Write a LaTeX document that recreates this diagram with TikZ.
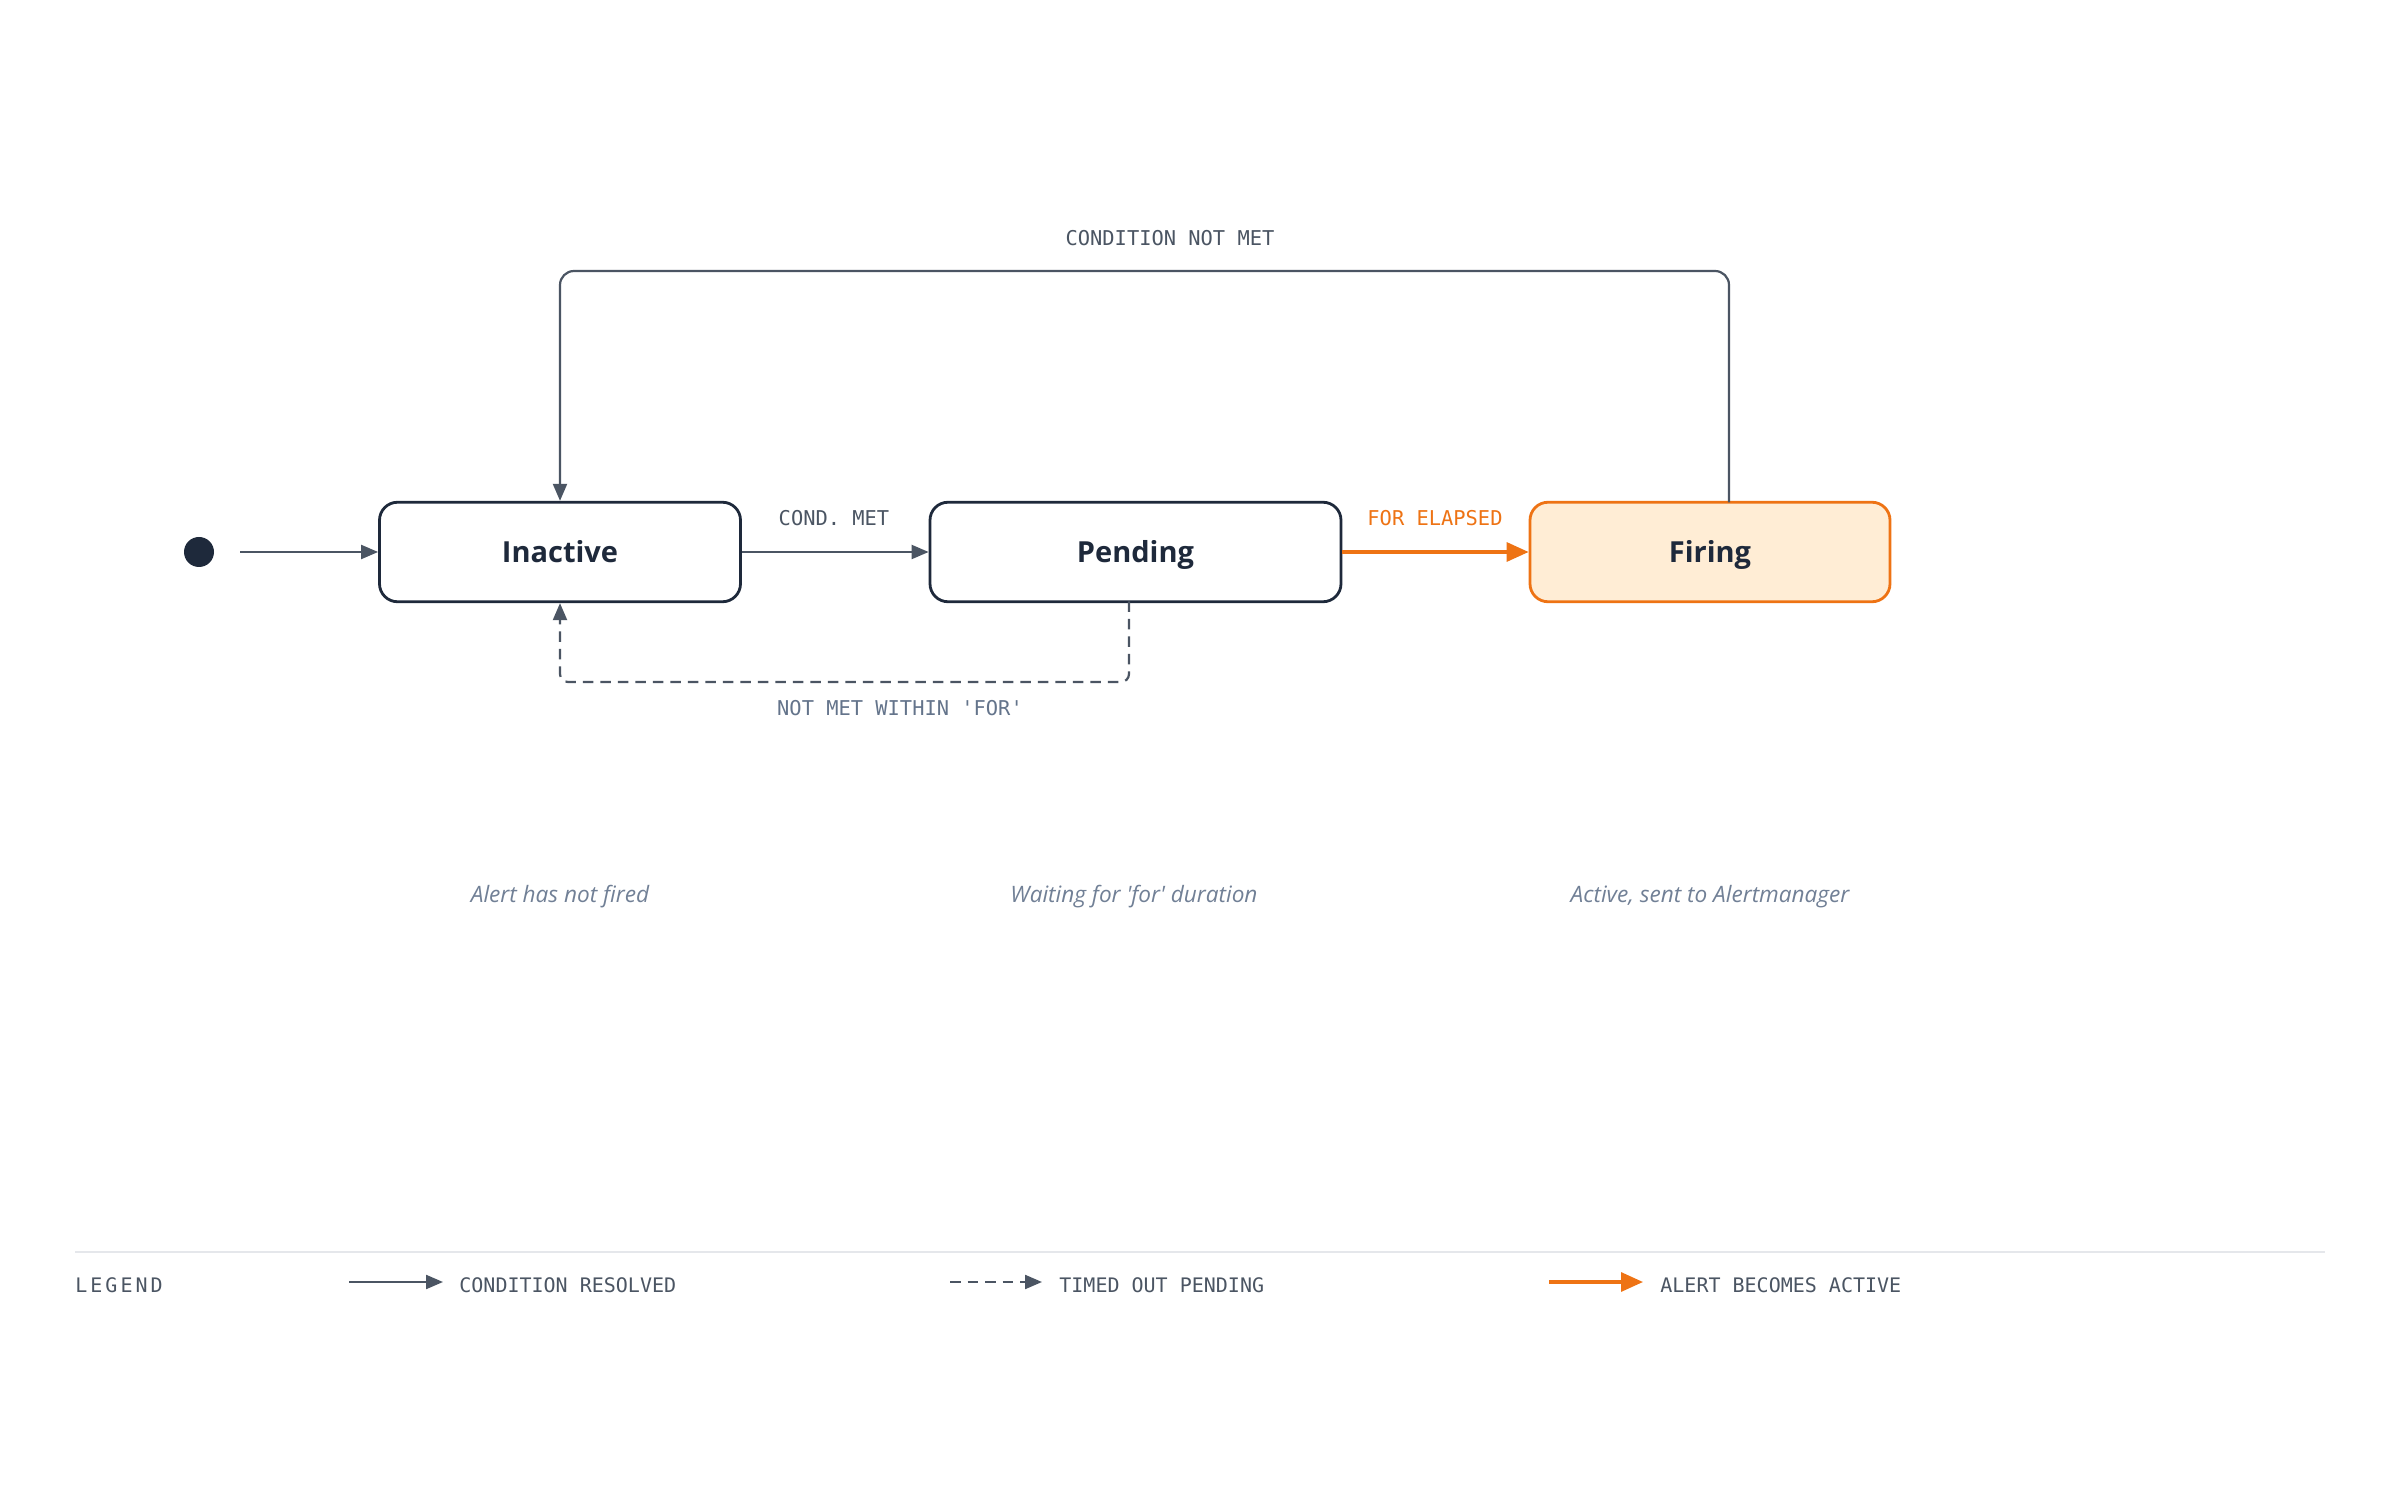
\documentclass[tikz,border=0pt]{standalone}
\usepackage{fontspec}
\setmainfont{Open Sans}
\newfontfamily\monof{DejaVu Sans Mono}
\newfontfamily\legendf{DejaVu Sans Mono}[LetterSpace=15]
\usetikzlibrary{arrows.meta}
\definecolor{ink}{HTML}{1E293B}
\definecolor{edgegray}{HTML}{4B5563}
\definecolor{labgray}{HTML}{4B5563}
\definecolor{softgray}{HTML}{64748B}
\definecolor{descgray}{HTML}{718096}
\definecolor{orng}{HTML}{EE7314}
\definecolor{firefill}{HTML}{FFEDD5}
\definecolor{rulegray}{HTML}{E5E7EB}
\tikzset{
  statebox/.style={draw=ink, line width=1.4pt, rounded corners=9pt, fill=white,
    minimum height=49.75pt, inner sep=0pt, text=ink, text height=10.4pt, text depth=0pt,
    font=\fontsize{14.5}{18}\selectfont\bfseries},
  firebox/.style={statebox, draw=orng, fill=firefill},
  edge/.style={draw=edgegray, line width=1.1pt, -{Triangle[length=8.5pt,width=7pt]}},
  hotedge/.style={draw=orng, line width=1.6pt, -{Triangle[length=11pt,width=9.5pt]}},
  dashedge/.style={edge, dash pattern=on 5.25pt off 3.5pt},
  elabel/.style={text=labgray, font=\monof\fontsize{10.2}{12}\selectfont, inner sep=0pt},
  desc/.style={text=descgray, font=\fontsize{11.3}{13}\selectfont\itshape, inner sep=0pt},
  legtext/.style={text=labgray, font=\monof\fontsize{10}{12}\selectfont, inner sep=0pt, anchor=west}
}
\begin{document}
\begin{tikzpicture}[x=0.5pt,y=-0.5pt]
\fill[white] (0,0) rectangle (2400,1502);
\useasboundingbox (0,0) rectangle (2400,1502);

% states
\node[circle, fill=ink, minimum size=15pt, inner sep=0pt] (init) at (199,552) {};
\coordinate (initout) at (240,552);
\node[statebox, minimum width=180.5pt] (inactive) at (560,552) {Inactive};
\node[statebox, minimum width=205.5pt] (pending) at (1135.5,552) {Pending};
\node[firebox, minimum width=180pt] (firing) at (1710,552) {Firing};

% transitions
\draw[edge] (initout) -- (inactive.west);
\draw[edge] (inactive.east) -- (pending.west);
\draw[hotedge] (pending.east) -- (firing.west);

\coordinate (fireout) at (1729,502.5);
\draw[edge, rounded corners=7pt] (fireout) -- (1729,271) -- (560,271) -- (inactive.north);

\coordinate (pendout) at (1129,601.5);
\draw[dashedge, rounded corners=4pt] (pendout) -- (1129,682) -- (560,682) -- (inactive.south);

% labels
\node[elabel] (lcnm) at (1170,238) {CONDITION NOT MET};
\node[elabel] (lcm) at (834,518) {COND. MET};
\node[elabel, text=orng] (lfe) at (1435,518) {FOR ELAPSED};
\node[elabel, text=softgray] (lnm) at (900,708) {NOT MET WITHIN 'FOR'};

% descriptions
\node[desc] (d1) at (560,897) {Alert has not fired};
\node[desc] (d2) at (1134,897) {Waiting for \textquotesingle for\textquotesingle{} duration};
\node[desc] (d3) at (1710,897) {Active, sent to Alertmanager};

% legend
\draw[rulegray, line width=1pt] (75,1252) -- (2325,1252);
\node[legtext, font=\legendf\fontsize{10}{12}\selectfont] (leg) at (75,1285) {LEGEND};
\coordinate (la1) at (349,1282);
\coordinate (lb1) at (443,1282);
\draw[edge] (la1) -- (lb1);
\node[legtext] (lt1) at (459,1285) {CONDITION RESOLVED};
\coordinate (la2) at (950,1282);
\coordinate (lb2) at (1042,1282);
\draw[dashedge] (la2) -- (lb2);
\node[legtext] (lt2) at (1059,1285) {TIMED OUT PENDING};
\coordinate (la3) at (1549,1282);
\coordinate (lb3) at (1643,1282);
\draw[hotedge] (la3) -- (lb3);
\node[legtext] (lt3) at (1660,1285) {ALERT BECOMES ACTIVE};
\end{tikzpicture}
\end{document}
